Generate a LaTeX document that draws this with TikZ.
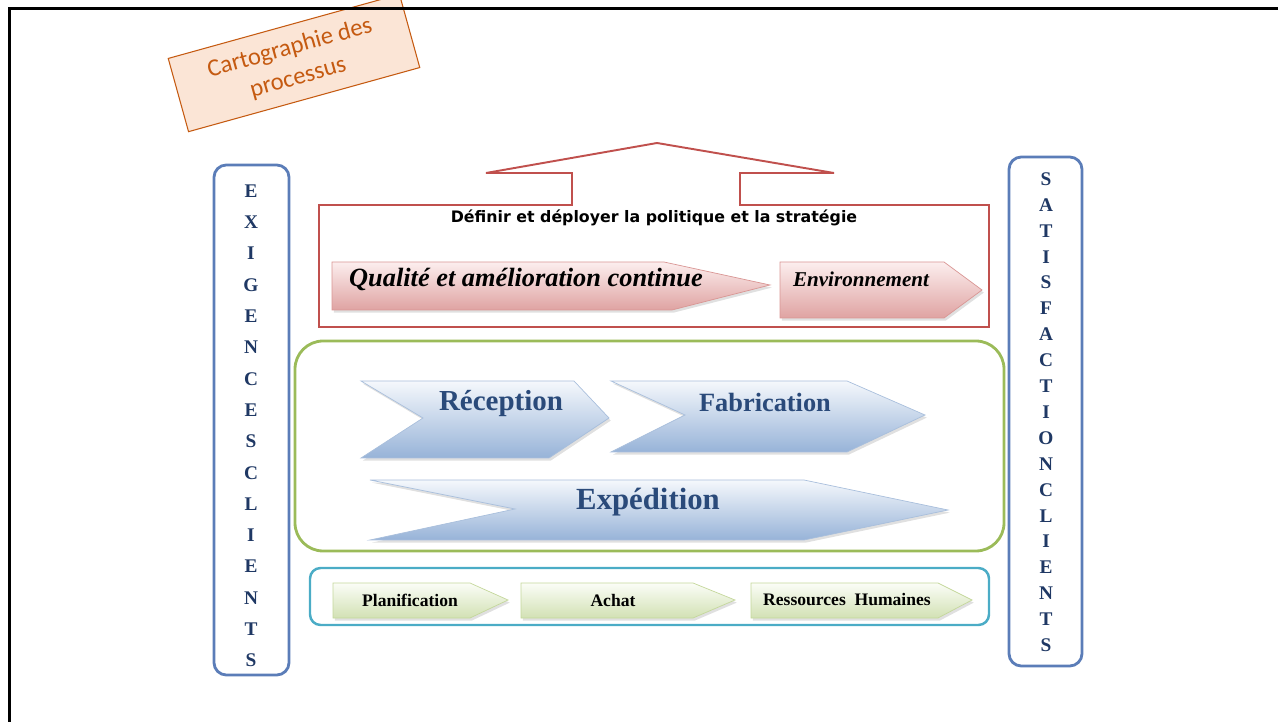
\documentclass[tikz,border=0pt]{standalone}
\usepackage{fontspec}
\setmainfont{Liberation Serif}
\newfontfamily\comicfont{DejaVu Sans}
\newfontfamily\cartofont{Carlito}
\usepackage{xcolor}

\definecolor{cartoorange}{HTML}{C55A11}
\definecolor{cartofill}{HTML}{FBE5D6}
\definecolor{polred}{HTML}{C0504D}
\definecolor{colblue}{HTML}{5B7DB8}
\definecolor{navy}{HTML}{1F3864}
\definecolor{chevnavy}{HTML}{2A4A7A}
\definecolor{opgreen}{HTML}{9BBB59}
\definecolor{supteal}{HTML}{4BACC6}
\definecolor{redtop}{HTML}{FCEEEE}
\definecolor{redbot}{HTML}{DFA3A2}
\definecolor{redline}{HTML}{D99694}
\definecolor{bluetop}{HTML}{F5F8FC}
\definecolor{bluebot}{HTML}{97B3D8}
\definecolor{blueline}{HTML}{A9BFDC}
\definecolor{greentop}{HTML}{FBFDF7}
\definecolor{greenbot}{HTML}{D2E1B4}
\definecolor{greenline}{HTML}{C4D79B}

\tikzset{
    redchev/.style={top color=redtop, bottom color=redbot, draw=redline, line width=0.4pt,
        preaction={fill=black, opacity=0.12, transform canvas={xshift=1pt, yshift=-1.5pt}}},
    bluechev/.style={top color=bluetop, bottom color=bluebot, draw=blueline, line width=0.4pt,
        preaction={fill=black, opacity=0.12, transform canvas={xshift=1pt, yshift=-1.5pt}}},
    greenchev/.style={top color=greentop, bottom color=greenbot, draw=greenline, line width=0.4pt,
        preaction={fill=black, opacity=0.12, transform canvas={xshift=1pt, yshift=-1.5pt}}},
    colletter/.style={font=\bfseries\fontsize{11}{12}\selectfont, text=navy, inner sep=0pt},
    bluetext/.style={text=chevnavy, inner sep=0pt},
    greentext/.style={font=\bfseries\fontsize{10}{12}\selectfont, inner sep=0pt},
}

\begin{document}
\begin{tikzpicture}[x=0.02cm, y=-0.02cm]
    \useasboundingbox (0,0) rectangle (1278,722);

    % title box
    \node[draw=cartoorange, fill=cartofill, line width=0.6pt, rotate=15.5,
          minimum width=4.8cm, minimum height=1.52cm, align=center, text=cartoorange,
          font=\cartofont\fontsize{14}{17.5}\selectfont] (carto) at (294,63) {Cartographie des\\processus};

    % slide frame
    \draw[line width=1.4pt] (9.5,730) -- (9.5,8.5) -- (1290,8.5);

    % side columns
    \draw[colblue, line width=1.6pt, rounded corners=7pt] (214,165) rectangle (289,675);
    \draw[colblue, line width=1.6pt, rounded corners=7pt] (1009,157) rectangle (1082,666);
    \foreach \l [count=\i] in {E,X,I,G,E,N,C,E,S,C,L,I,E,N,T,S}
        \node[colletter] (exi\i) at (251, {191+31.3*(\i-1)}) {\l};
    \foreach \l [count=\i] in {S,A,T,I,S,F,A,C,T,I,O,N,C,L,I,E,N,T,S}
        \node[colletter] (sat\i) at (1046, {179+25.9*(\i-1)}) {\l};

    % management processes
    \draw[polred, line width=1.1pt] (319,205) -- (572,205) -- (572,173) -- (486,173) -- (657,143)
        -- (834,173) -- (740,173) -- (740,205) -- (989,205) -- (989,327) -- (319,327) -- cycle;
    \node[font=\comicfont\bfseries\fontsize{9}{11}\selectfont] (defin) at (654,218)
        {Définir et déployer la politique et la stratégie};
    \path[redchev] (332,262) -- (664,262) -- (770,285) -- (672,310) -- (332,310) -- cycle;
    \path[redchev] (780,262) -- (944,262) -- (982,290) -- (944,318) -- (780,318) -- cycle;
    \node[font=\bfseries\itshape\fontsize{15}{18}\selectfont] (qual) at (526,279) {Qualité et amélioration continue};
    \node[font=\bfseries\itshape\fontsize{12}{14}\selectfont] (env) at (861,279) {Environnement};

    % operational processes
    \draw[opgreen, line width=1.6pt, rounded corners=16pt] (295,341) rectangle (1004,551);
    \path[bluechev] (361,381) -- (574,381) -- (609,418) -- (549,458) -- (361,458) -- (423,418) -- cycle;
    \path[bluechev] (611,381) -- (847,381) -- (925,415) -- (847,452) -- (611,452) -- (685,415) -- cycle;
    \path[bluechev] (370,480) -- (804,480) -- (948,510) -- (804,540) -- (370,540) -- (515,509) -- cycle;
    \node[bluetext, font=\bfseries\fontsize{16.5}{19}\selectfont] (recep) at (501,404) {Réception};
    \node[bluetext, font=\bfseries\fontsize{15}{18}\selectfont] (fab) at (765,402) {Fabrication};
    \node[bluetext, font=\bfseries\fontsize{17.5}{20}\selectfont] (exped) at (648,502) {Expédition};

    % support processes
    \draw[supteal, line width=1.4pt, rounded corners=6pt] (310,568) rectangle (989,625);
    \path[greenchev] (333,583) -- (470,583) -- (508,600) -- (470,618) -- (333,618) -- cycle;
    \path[greenchev] (521,583) -- (693,583) -- (735,600) -- (693,618) -- (521,618) -- cycle;
    \path[greenchev] (751,583) -- (938,583) -- (972,600) -- (938,618) -- (751,618) -- cycle;
    \node[greentext] (plan) at (410,600) {Planification};
    \node[greentext] (achat) at (613,600) {Achat};
    \node[greentext] (rh) at (847,600) {Ressources\ \ Humaines};
\end{tikzpicture}
\end{document}
